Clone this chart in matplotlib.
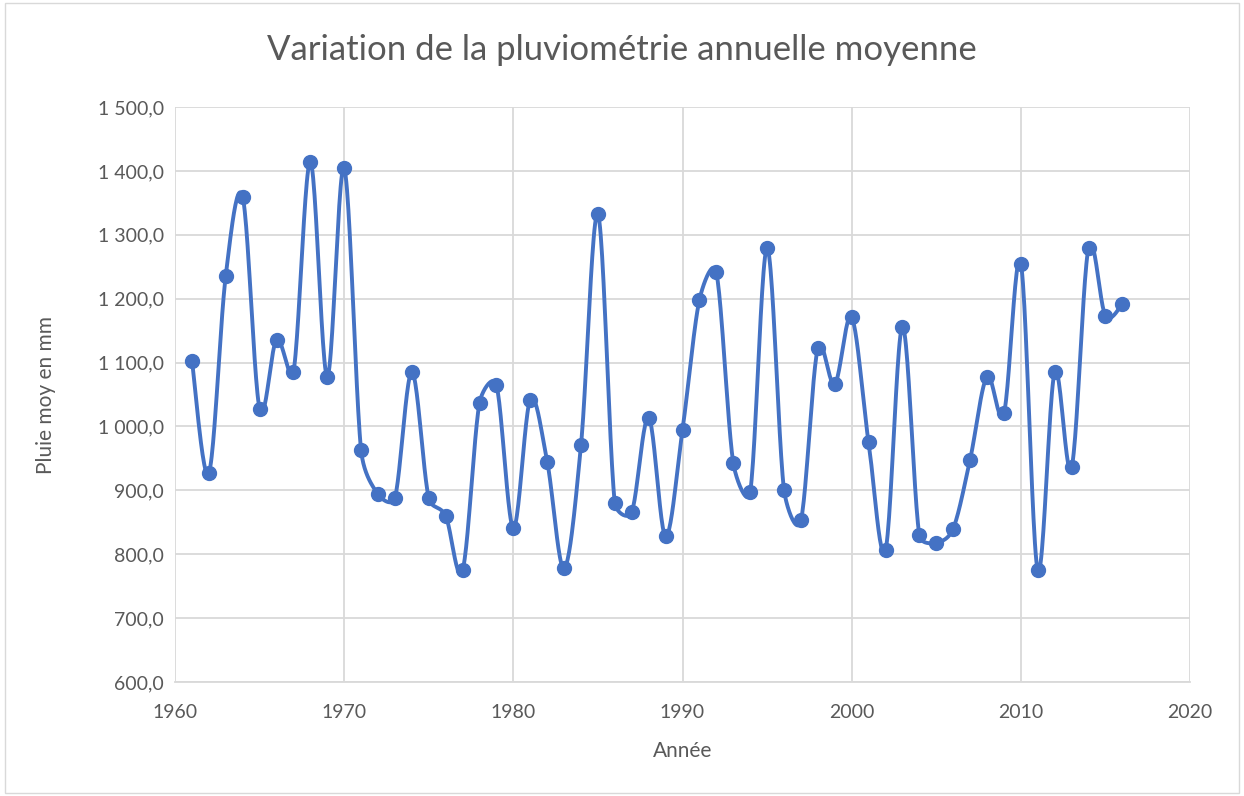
import numpy as np
import matplotlib
matplotlib.use("Agg")
import matplotlib.pyplot as plt
from matplotlib.patches import FancyBboxPatch

years = list(range(1961, 2017))
pluie = [1103, 927, 1236, 1359, 1028, 1136, 1085, 1414, 1078, 1404,
         963, 894, 888, 1085, 888, 860, 775, 1037, 1065, 841,
         1042, 945, 778, 971, 1332, 880, 866, 1014, 828, 995,
         1198, 1241, 943, 897, 1279, 901, 853, 1123, 1066, 1171,
         975, 807, 1156, 830, 818, 840, 948, 1078, 1021, 1255,
         775, 1085, 936, 1279, 1173, 1191]

title = "Variation de la pluviométrie annuelle moyenne"
xlabel = "Année"
ylabel = "Pluie moy en mm"

blue = "#4472C4"
grey_text = "#595959"
grid_col = "#D9D9D9"

# pixel scale of the plot area, used to limit the bezier arms like Excel does
PX_X = (1190 - 175) / 60.0
PX_Y = (682 - 107) / 900.0


def smooth(x, y, n=24):
    x = np.asarray(x, float)
    y = np.asarray(y, float)
    px = np.concatenate([[x[0]], x, [x[-1]]])
    py = np.concatenate([[y[0]], y, [y[-1]]])

    def dist(i, j):
        return np.hypot((px[i] - px[j]) * PX_X, (py[i] - py[j]) * PX_Y)

    xs, ys = [], []
    t = np.linspace(0, 1, n, endpoint=False)
    f0 = 1 / 6
    for i in range(1, len(px) - 2):
        d12 = dist(i, i + 1)
        d02 = dist(i - 1, i + 1)
        d13 = dist(i, i + 2)
        f1 = f0 if d02 * f0 < d12 / 2 else (d12 / 2) / d02 if d02 > 0 else 0
        f2 = f0 if d13 * f0 < d12 / 2 else (d12 / 2) / d13 if d13 > 0 else 0
        p0, p1, p2, p3 = px[i - 1], px[i], px[i + 1], px[i + 2]
        q0, q1, q2, q3 = py[i - 1], py[i], py[i + 1], py[i + 2]
        c1x, c1y = p1 + f1 * (p2 - p0), q1 + f1 * (q2 - q0)
        c2x, c2y = p2 - f2 * (p3 - p1), q2 - f2 * (q3 - q1)
        b0, b1, b2, b3 = (1 - t) ** 3, 3 * t * (1 - t) ** 2, 3 * t ** 2 * (1 - t), t ** 3
        xs.append(b0 * p1 + b1 * c1x + b2 * c2x + b3 * p2)
        ys.append(b0 * q1 + b1 * c1y + b2 * c2y + b3 * q2)
    xs.append([x[-1]])
    ys.append([y[-1]])
    return np.concatenate(xs), np.concatenate(ys)


plt.rcParams['font.family'] = ['Lato', 'DejaVu Sans']

fig = plt.figure(figsize=(12.44, 7.96), dpi=100)
fig.patches.append(FancyBboxPatch((0.004, 0.004), 0.992, 0.992, boxstyle="square,pad=0",
                                  transform=fig.transFigure, fill=False,
                                  edgecolor="#D9D9D9", linewidth=1))
ax = fig.add_axes([175 / 1244, 1 - 682 / 796, (1190 - 175) / 1244, (682 - 107) / 796])

sx, sy = smooth(years, pluie)
ax.plot(sx, sy, color=blue, linewidth=2.8, zorder=3)
ax.plot(years, pluie, 'o', color=blue, markersize=10, zorder=4)

ax.set_xlim(1960, 2020)
ax.set_ylim(600, 1500)
ax.set_xticks(range(1960, 2021, 10))
ax.set_yticks(range(600, 1501, 100))
ax.set_yticklabels([f"{v:,}".replace(",", " ") + ",0" for v in range(600, 1501, 100)])
ax.grid(True, color=grid_col, linewidth=1.3)
ax.set_axisbelow(True)
for s in ax.spines.values():
    s.set_visible(False)
ax.spines['bottom'].set_visible(True)
ax.spines['bottom'].set_color(grid_col)
ax.spines['bottom'].set_linewidth(1.3)
ax.tick_params(length=0, labelsize=14, colors=grey_text)
ax.tick_params(axis='x', pad=16)
ax.tick_params(axis='y', pad=8)

ax.set_xlabel(xlabel, fontsize=15, color=grey_text, labelpad=14)
ax.set_ylabel(ylabel, fontsize=15, color=grey_text, labelpad=30)
fig.text(0.5, 1 - 50 / 796, title, ha='center', va='center', fontsize=25, color=grey_text)

fig.savefig("out.png", dpi=100)
